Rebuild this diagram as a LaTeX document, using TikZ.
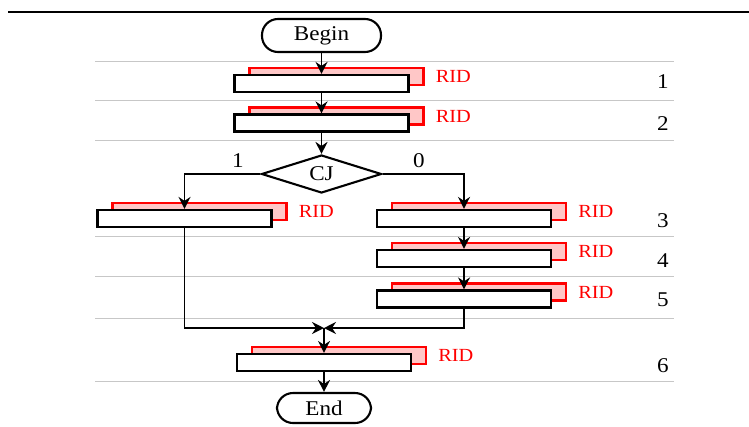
\documentclass[tikz,border=0pt]{standalone}
\usepackage{fontspec}
\setmainfont{Liberation Serif}[FakeStretch=1.1]
\usetikzlibrary{arrows.meta,shapes.geometric}

\begin{document}
\begin{tikzpicture}[x=1pt,y=-1pt,
  font=\fontsize{21}{25}\selectfont,
  terminal/.style={draw,line width=2.1pt,rounded corners=16pt,fill=white,inner sep=0pt},
  proc/.style={draw,line width=2.2pt,fill=white,minimum width=174pt,minimum height=17pt,inner sep=0pt},
  ridbox/.style={draw=red,line width=2.2pt,fill=red!22,minimum width=174pt,minimum height=17pt,inner sep=0pt},
  ridlabel/.style={text=red,font=\fontsize{18.5}{22}\selectfont,inner sep=0pt,anchor=west},
  decision/.style={draw,diamond,shape aspect=3,line width=2.1pt,fill=white,
    minimum width=120pt,minimum height=38pt,inner sep=0pt},
  flow/.style={line width=1.9pt,-{Stealth[length=12pt,width=12pt,inset=4pt]}},
  rowrule/.style={draw=black!22,line width=1pt},
  stepno/.style={inner sep=0pt}
]
\useasboundingbox (0,0) rectangle (749,426);

% top rule and row separators
\draw[line width=1.3pt] (8,12) -- (749,12);
\foreach \yy in {61,100,140,236,276,318,381}
  \draw[rowrule] (95,\yy) -- (674,\yy);

% terminals
\node[terminal,minimum width=119pt,minimum height=33pt] (begin) at (321.5,35.5) {Begin};
\node[terminal,minimum width=94pt,minimum height=30pt] (end) at (324,408) {End};

% process boxes with their red RID backing boxes
\foreach \nm/\px/\py in {1/321.5/83.5, 2/321.5/123, 3l/184.5/218.5, 3r/464/218.5,
                          4r/464/258.5, 5r/464/299, 6/324/362.5}{
  \node[ridbox] (r\nm) at (\px+15,\py-7) {};
  \node[proc] (p\nm) at (\px,\py) {};
  \node[ridlabel] (t\nm) at ([xshift=11pt]r\nm.east) {RID};
}

% decision
\node[decision] (cj) at (321.5,174) {CJ};
\node (lab1) at (238,161) {1};
\node (lab0) at (419,161) {0};

% step numbers
\node[stepno] (n1) at (663,82) {1};
\node[stepno] (n2) at (663,124) {2};
\node[stepno] (n3) at (663,221) {3};
\node[stepno] (n4) at (663,261) {4};
\node[stepno] (n5) at (663,300) {5};
\node[stepno] (n6) at (663,366) {6};

% connectors
\coordinate (j) at (324,328);
\draw[flow] (begin) -- (p1);
\draw[flow] (p1) -- (p2);
\draw[flow] (p2) -- (cj);
\draw[flow] (cj.west) -| (p3l.north);
\draw[flow] (cj.east) -| (p3r.north);
\draw[flow] (p3r) -- (p4r);
\draw[flow] (p4r) -- (p5r);
\draw[flow] (p3l.south) |- (j);
\draw[flow] (p5r.south) |- (j);
\draw[flow] (j) -- (p6);
\draw[flow] (p6) -- (end);
\end{tikzpicture}
\end{document}
